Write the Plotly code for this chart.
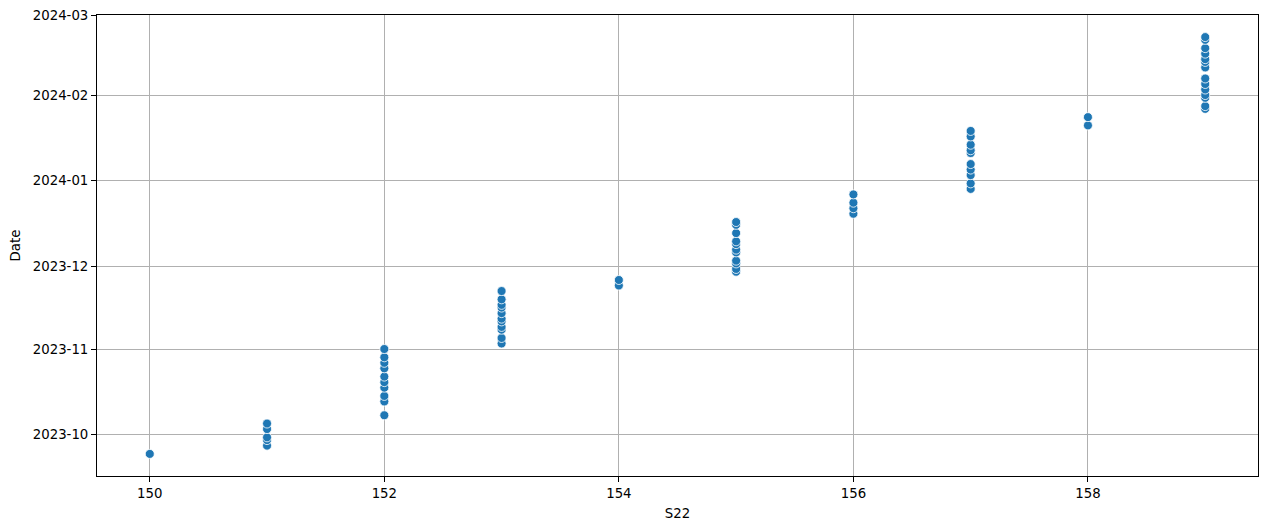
import plotly.graph_objects as go

# S22 value for each observation, with the matching date
s22 = [150,
       151, 151, 151, 151, 151,
       152, 152, 152, 152, 152, 152, 152, 152, 152, 152,
       153, 153, 153, 153, 153, 153, 153, 153, 153, 153, 153,
       154, 154,
       155, 155, 155, 155, 155, 155, 155, 155, 155, 155, 155,
       156, 156, 156, 156,
       157, 157, 157, 157, 157, 157, 157, 157, 157, 157,
       158, 158,
       159, 159, 159, 159, 159, 159, 159, 159, 159, 159, 159, 159, 159, 159]

dates = ["2023-09-24",
         "2023-09-27", "2023-09-29", "2023-09-30", "2023-10-03", "2023-10-05",
         "2023-10-08", "2023-10-13", "2023-10-15", "2023-10-18", "2023-10-20",
         "2023-10-22", "2023-10-25", "2023-10-27", "2023-10-29", "2023-11-01",
         "2023-11-03", "2023-11-05", "2023-11-08", "2023-11-09", "2023-11-11",
         "2023-11-12", "2023-11-14", "2023-11-16", "2023-11-17", "2023-11-19", "2023-11-22",
         "2023-11-24", "2023-11-26",
         "2023-11-29", "2023-11-30", "2023-12-02", "2023-12-03", "2023-12-06",
         "2023-12-07", "2023-12-09", "2023-12-10", "2023-12-13", "2023-12-16", "2023-12-17",
         "2023-12-20", "2023-12-22", "2023-12-24", "2023-12-27",
         "2023-12-29", "2023-12-31", "2024-01-03", "2024-01-05", "2024-01-07",
         "2024-01-11", "2024-01-12", "2024-01-14", "2024-01-17", "2024-01-19",
         "2024-01-21", "2024-01-24",
         "2024-01-27", "2024-01-28", "2024-01-31", "2024-02-01", "2024-02-03",
         "2024-02-05", "2024-02-07", "2024-02-11", "2024-02-13", "2024-02-14",
         "2024-02-16", "2024-02-18", "2024-02-21", "2024-02-22"]

fig = go.Figure()
fig.add_trace(go.Scatter(x=s22, y=dates, mode="markers",
                         marker=dict(color="#1f77b4", size=9, line=dict(color="white", width=0.8)),
                         showlegend=False))

axis_style = dict(showline=True, linecolor="black", linewidth=1, mirror=True,
                  ticks="outside", ticklen=5, tickcolor="black", tickwidth=1,
                  showgrid=True, gridcolor="#b0b0b0", gridwidth=1, zeroline=False,
                  automargin=False, ticklabeloverflow="allow",
                  tickfont=dict(size=13.3, color="black"))

fig.update_xaxes(axis_style, range=[149.55, 159.45], tick0=150, dtick=2,
                 title=dict(text="S22", font=dict(size=13.3, color="black"), standoff=8))
fig.update_yaxes(axis_style, type="date", range=["2023-09-16", "2024-03-01"],
                 tick0="2023-10-01", dtick="M1", tickformat="%Y-%m",
                 title=dict(text="Date", font=dict(size=13.3, color="black"), standoff=10))

# the page puts the figure 8px in from the corner, so the size is trimmed to match
fig.update_layout(width=1261, height=521,
                  margin=dict(l=89, r=11, t=7, b=53),
                  plot_bgcolor="white", paper_bgcolor="white",
                  font=dict(family="DejaVu Sans", size=13.3, color="black"))

fig.write_html("out.html")
